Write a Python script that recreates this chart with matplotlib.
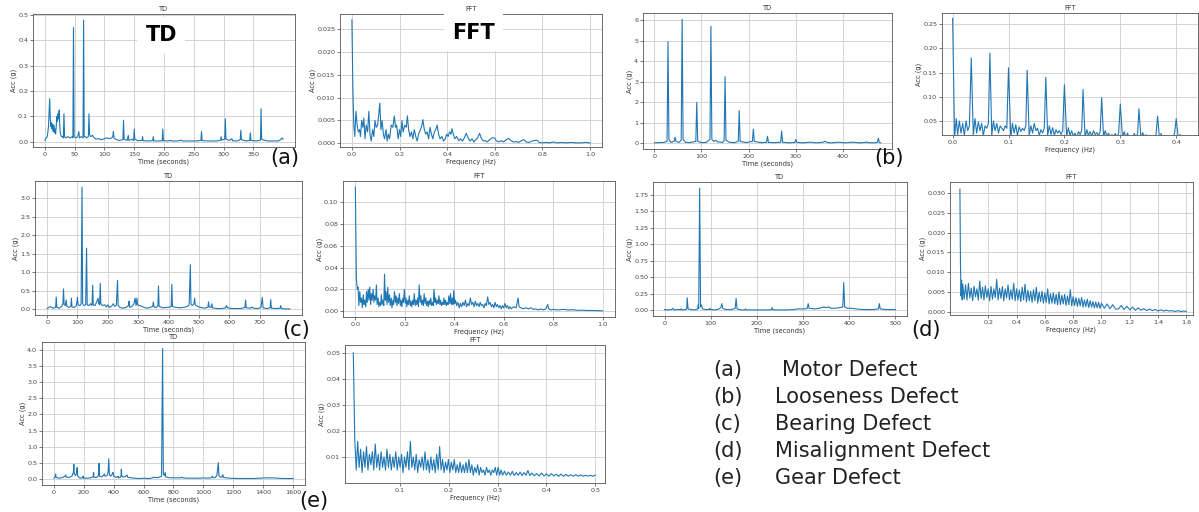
#Imports

import numpy as np
import matplotlib
matplotlib.use("Agg")
import matplotlib.pyplot as plt

#Data (time in seconds / frequency in Hz, acceleration in g)

motor_td = [(0,0.005),(2,0.015),(4,0.02),(6,0.06),(8,0.17),(9,0.09),(10,0.06),(11,0.075),(12,0.05),(13,0.07),
            (14,0.04),(15,0.065),(16,0.035),(17,0.05),(18,0.03),(19,0.06),(20,0.1),(21,0.08),(22,0.11),(23,0.09),
            (24,0.125),(25,0.06),(26,0.03),(28,0.02),(30,0.02),(31,0.015),(32,0.11),(33,0.02),(35,0.015),(38,0.02),
            (42,0.015),(46,0.02),(47,0.015),(48,0.45),(49,0.02),(52,0.015),(55,0.02),(57,0.04),(58,0.015),(61,0.02),
            (64,0.015),(65,0.48),(66,0.02),(68,0.02),(70,0.015),(73,0.02),(74,0.11),(75,0.03),(77,0.02),(80,0.025),
            (83,0.015),(86,0.01),(90,0.012),(95,0.008),(100,0.012),(104,0.015),(108,0.012),(112,0.015),(114,0.02),
            (115,0.04),(116,0.015),(120,0.008),(125,0.005),(131,0.008),(132,0.085),(133,0.01),(138,0.005),(140,0.025),
            (141,0.005),(146,0.01),(149,0.005),(150,0.05),(151,0.01),(156,0.004),(163,0.005),(164,0.02),(165,0.004),
            (172,0.003),(181,0.004),(182,0.02),(183,0.003),(190,0.003),(197,0.004),(198,0.05),(199,0.004),(205,0.003),
            (212,0.005),(213,0.003),(222,0.003),(230,0.006),(231,0.003),(245,0.003),(255,0.003),(262,0.005),(263,0.04),
            (264,0.004),(275,0.003),(288,0.003),(295,0.006),(296,0.02),(297,0.006),(302,0.01),(303,0.09),(304,0.01),
            (310,0.005),(314,0.012),(315,0.004),(322,0.003),(328,0.008),(329,0.045),(330,0.008),(338,0.003),(344,0.005),
            (345,0.035),(346,0.005),(355,0.003),(362,0.006),(363,0.13),(364,0.01),(368,0.006),(375,0.003),(385,0.003),
            (392,0.003),(396,0.008),(398,0.015),(400,0.01)]

motor_fft = [(0.0,0.027),(0.004,0.012),(0.008,0.004),(0.012,0.0015),(0.017,0.007),(0.022,0.004),(0.027,0.0025),
             (0.032,0.003),(0.036,0.0015),(0.041,0.005),(0.046,0.0035),(0.05,0.0055),(0.055,0.001),(0.06,0.004),
             (0.066,0.0025),(0.071,0.007),(0.076,0.002),(0.081,0.0005),(0.087,0.003),(0.092,0.0015),(0.097,0.005),
             (0.102,0.0035),(0.108,0.004),(0.112,0.006),(0.117,0.0088),(0.122,0.003),(0.127,0.005),(0.132,0.002),
             (0.137,0.001),(0.143,0.003),(0.148,0.0005),(0.153,0.002),(0.158,0.001),(0.165,0.004),(0.172,0.0035),
             (0.178,0.006),(0.183,0.0035),(0.188,0.004),(0.194,0.001),(0.2,0.003),(0.205,0.0015),(0.21,0.005),
             (0.215,0.0025),(0.222,0.004),(0.228,0.0035),(0.233,0.006),(0.238,0.003),(0.244,0.0015),(0.25,0.0025),
             (0.256,0.001),(0.262,0.003),(0.268,0.0015),(0.274,0.0005),(0.28,0.002),(0.288,0.003),(0.294,0.004),
             (0.298,0.0052),(0.304,0.003),(0.31,0.002),(0.316,0.0025),(0.322,0.001),(0.328,0.0035),(0.334,0.002),
             (0.34,0.001),(0.346,0.0025),(0.352,0.003),(0.358,0.004),(0.364,0.002),(0.37,0.001),(0.378,0.0015),
             (0.385,0.0005),(0.392,0.001),(0.398,0.002),(0.404,0.0015),(0.41,0.0025),(0.416,0.002),(0.42,0.0032),
             (0.426,0.002),(0.432,0.001),(0.44,0.0015),(0.448,0.0006),(0.456,0.001),(0.464,0.0005),(0.472,0.0012),
             (0.48,0.0022),(0.488,0.0012),(0.496,0.0005),(0.504,0.001),(0.512,0.0003),(0.52,0.0008),(0.528,0.0012),
             (0.536,0.0022),(0.544,0.001),(0.552,0.0005),(0.56,0.0006),(0.568,0.0003),(0.578,0.0008),(0.588,0.0012),
             (0.598,0.0012),(0.606,0.0006),(0.616,0.0003),(0.626,0.0006),(0.636,0.0003),(0.648,0.0008),(0.658,0.0011),
             (0.668,0.0006),(0.678,0.0003),(0.69,0.0004),(0.7,0.0002),(0.712,0.0006),(0.722,0.0008),(0.732,0.0003),
             (0.744,0.0002),(0.756,0.0005),(0.766,0.0006),(0.776,0.0007),(0.786,0.0002),(0.8,0.0001),(0.815,0.0002),
             (0.83,0.0001),(0.846,0.0003),(0.86,0.0001),(0.88,0.0002),(0.9,0.0001),(0.92,0.0002),(0.94,0.0001),
             (0.96,0.0001),(0.98,0.0002),(1.0,0.0001)]

looseness_td = [(0,0.03),(10,0.04),(20,0.05),(27,0.1),(29,4.95),(31,0.2),(35,0.05),(42,0.1),(44,0.3),(46,0.1),
                (52,0.05),(57,0.15),(59,6.05),(61,0.2),(66,0.05),(75,0.04),(88,0.1),(90,2.0),(92,0.1),(100,0.04),
                (110,0.05),(118,0.2),(120,5.7),(122,0.2),(126,0.1),(130,0.15),(134,0.08),(145,0.05),(148,0.15),
                (150,3.25),(152,0.15),(160,0.05),(170,0.04),(178,0.1),(180,1.6),(182,0.1),(195,0.04),(208,0.1),
                (210,0.7),(212,0.1),(225,0.04),(238,0.05),(240,0.35),(242,0.05),(255,0.04),(268,0.06),(270,0.6),
                (272,0.06),(285,0.03),(298,0.05),(300,0.2),(302,0.05),(315,0.03),(330,0.06),(345,0.03),(358,0.06),
                (362,0.11),(366,0.05),(375,0.03),(390,0.06),(405,0.03),(420,0.06),(435,0.03),(448,0.05),(450,0.08),
                (452,0.04),(465,0.03),(473,0.05),(475,0.25),(477,0.05),(480,0.03)]

looseness_fft = [(0.0,0.262),(0.0035,0.015),(0.0065,0.055),(0.009,0.022),(0.012,0.05),(0.015,0.025),(0.018,0.045),
                 (0.021,0.02),(0.024,0.05),(0.027,0.03),(0.03,0.04),
                 (0.0333,0.18),(0.037,0.02),(0.04,0.055),(0.043,0.025),(0.046,0.048),(0.049,0.03),(0.052,0.045),
                 (0.055,0.02),(0.058,0.04),(0.061,0.035),(0.064,0.045),
                 (0.0667,0.19),(0.07,0.02),(0.073,0.05),(0.076,0.03),(0.079,0.045),(0.082,0.025),(0.085,0.04),
                 (0.088,0.035),(0.091,0.03),(0.094,0.04),(0.097,0.035),
                 (0.1,0.16),(0.104,0.015),(0.107,0.045),(0.11,0.025),(0.113,0.042),(0.116,0.02),(0.119,0.038),
                 (0.122,0.028),(0.125,0.035),(0.128,0.03),(0.131,0.04),
                 (0.1333,0.155),(0.137,0.02),(0.14,0.04),(0.143,0.025),(0.146,0.045),(0.149,0.03),(0.152,0.035),
                 (0.155,0.02),(0.158,0.032),(0.161,0.025),(0.164,0.035),
                 (0.1667,0.14),(0.17,0.02),(0.173,0.04),(0.176,0.022),(0.179,0.036),(0.182,0.02),(0.185,0.032),
                 (0.188,0.025),(0.191,0.03),(0.194,0.022),(0.197,0.03),
                 (0.2,0.125),(0.204,0.018),(0.207,0.036),(0.21,0.02),(0.213,0.03),(0.216,0.018),(0.219,0.025),
                 (0.222,0.015),(0.225,0.028),(0.228,0.022),(0.231,0.03),
                 (0.2333,0.115),(0.237,0.015),(0.24,0.032),(0.243,0.02),(0.246,0.028),(0.249,0.018),(0.252,0.03),
                 (0.255,0.022),(0.258,0.026),(0.261,0.02),(0.264,0.028),
                 (0.2667,0.098),(0.27,0.016),(0.273,0.03),(0.276,0.018),(0.279,0.025),(0.282,0.015),(0.285,0.022),
                 (0.288,0.018),(0.291,0.024),(0.294,0.016),(0.297,0.025),
                 (0.3,0.085),(0.304,0.014),(0.307,0.028),(0.31,0.016),(0.313,0.025),(0.316,0.012),(0.319,0.02),
                 (0.322,0.016),(0.325,0.024),(0.328,0.018),(0.331,0.024),
                 (0.3333,0.075),(0.337,0.013),(0.34,0.026),(0.343,0.016),(0.346,0.022),(0.349,0.012),(0.352,0.02),
                 (0.355,0.014),(0.358,0.018),(0.361,0.015),(0.364,0.022),
                 (0.3667,0.06),(0.37,0.014),(0.373,0.024),(0.376,0.012),(0.379,0.02),(0.382,0.01),(0.385,0.018),
                 (0.388,0.014),(0.391,0.02),(0.394,0.016),(0.397,0.024),
                 (0.4,0.055),(0.404,0.012),(0.407,0.022),(0.41,0.014),(0.413,0.018),(0.416,0.012)]

bearing_td = [(0,0.02),(5,0.05),(10,0.07),(15,0.05),(20,0.03),(28,0.05),(30,0.33),(32,0.05),(40,0.03),(48,0.08),
              (52,0.15),(54,0.55),(56,0.12),(60,0.1),(63,0.25),(65,0.08),(72,0.05),(78,0.08),(80,0.3),(82,0.06),
              (90,0.05),(96,0.1),(98,0.2),(100,0.32),(102,0.12),(108,0.1),(112,0.15),(115,3.3),(117,0.15),(122,0.1),
              (127,0.12),(130,1.65),(132,0.12),(138,0.1),(143,0.15),(148,0.1),(150,0.65),(152,0.12),(158,0.1),
              (163,0.2),(168,0.3),(170,0.15),(173,0.12),(175,0.7),(177,0.15),(182,0.1),(190,0.12),(195,0.06),
              (200,0.12),(205,0.05),(212,0.08),(218,0.15),(222,0.08),(228,0.1),(232,0.78),(234,0.1),(240,0.05),
              (250,0.03),(260,0.05),(268,0.1),(270,0.22),(272,0.05),(280,0.08),(286,0.15),(290,0.3),(293,0.1),
              (296,0.3),(298,0.12),(305,0.1),(312,0.08),(320,0.05),(330,0.03),(340,0.05),(348,0.08),(350,0.2),
              (352,0.06),(360,0.05),(365,0.1),(367,0.63),(369,0.08),(380,0.04),(395,0.05),(405,0.06),(409,0.08),
              (411,0.67),(413,0.07),(425,0.05),(440,0.04),(455,0.06),(463,0.08),(468,0.12),(472,1.2),(474,0.15),
              (478,0.1),(484,0.15),(486,0.3),(488,0.12),(495,0.08),(505,0.05),(520,0.03),(530,0.06),(532,0.2),
              (534,0.06),(540,0.05),(543,0.15),(545,0.04),(560,0.02),(575,0.02),(588,0.04),(591,0.1),(594,0.04),
              (610,0.02),(630,0.02),(645,0.03),(652,0.05),(654,0.25),(656,0.04),(670,0.03),(676,0.06),(680,0.03),
              (695,0.02),(705,0.05),(709,0.32),(712,0.04),(725,0.02),(735,0.04),(737,0.26),(739,0.03),(755,0.02),
              (768,0.03),(770,0.1),(772,0.02),(785,0.01),(800,0.01)]

bearing_fft = [(0.0,0.114),(0.004,0.03),(0.008,0.02),(0.011,0.022),(0.014,0.005),(0.018,0.018),(0.021,0.008),
               (0.025,0.012),(0.028,0.003),(0.032,0.015),(0.035,0.006),(0.038,0.01),(0.042,0.004),(0.045,0.018),
               (0.048,0.008),(0.052,0.02),(0.055,0.01),(0.058,0.022),(0.062,0.006),(0.065,0.016),(0.068,0.01),
               (0.072,0.02),(0.075,0.008),(0.078,0.014),(0.082,0.01),(0.085,0.024),(0.088,0.006),(0.092,0.012),
               (0.095,0.004),(0.098,0.008),(0.102,0.005),(0.105,0.015),(0.108,0.006),(0.112,0.01),(0.115,0.005),
               (0.118,0.034),(0.121,0.01),(0.124,0.018),(0.128,0.006),(0.131,0.022),(0.134,0.008),(0.138,0.015),
               (0.141,0.005),(0.145,0.012),(0.148,0.003),(0.152,0.01),(0.155,0.006),(0.158,0.018),(0.162,0.008),
               (0.165,0.014),(0.168,0.005),(0.172,0.012),(0.175,0.007),(0.178,0.016),(0.182,0.005),(0.185,0.01),
               (0.188,0.004),(0.192,0.012),(0.195,0.008),(0.198,0.02),(0.202,0.007),(0.205,0.012),(0.208,0.004),
               (0.212,0.01),(0.215,0.006),(0.218,0.014),(0.222,0.005),(0.225,0.009),(0.228,0.004),(0.232,0.01),
               (0.235,0.006),(0.238,0.016),(0.242,0.005),(0.245,0.01),(0.248,0.006),(0.252,0.012),(0.255,0.004),
               (0.258,0.024),(0.262,0.008),(0.265,0.014),(0.268,0.006),(0.272,0.01),(0.275,0.005),(0.278,0.016),
               (0.282,0.007),(0.285,0.012),(0.288,0.005),(0.292,0.009),(0.295,0.004),(0.298,0.01),(0.302,0.006),
               (0.305,0.012),(0.308,0.005),(0.312,0.008),(0.315,0.005),(0.318,0.02),(0.322,0.008),(0.325,0.012),
               (0.328,0.006),(0.332,0.01),(0.335,0.007),(0.338,0.014),(0.342,0.006),(0.345,0.01),(0.348,0.005),
               (0.352,0.008),(0.355,0.006),(0.358,0.012),(0.362,0.006),(0.365,0.01),(0.368,0.005),(0.372,0.008),
               (0.375,0.006),(0.378,0.014),(0.382,0.007),(0.385,0.016),(0.388,0.006),(0.392,0.012),(0.395,0.006),
               (0.398,0.019),(0.402,0.007),(0.405,0.01),(0.41,0.005),(0.415,0.008),(0.42,0.003),(0.425,0.007),
               (0.43,0.004),(0.435,0.008),(0.44,0.005),(0.445,0.01),(0.45,0.004),(0.455,0.007),(0.46,0.005),
               (0.465,0.012),(0.47,0.006),(0.475,0.008),(0.48,0.004),(0.485,0.009),(0.49,0.005),(0.495,0.007),
               (0.5,0.004),(0.505,0.008),(0.51,0.005),(0.515,0.006),(0.52,0.003),(0.525,0.007),(0.53,0.005),
               (0.535,0.013),(0.54,0.006),(0.545,0.008),(0.55,0.004),(0.555,0.006),(0.56,0.003),(0.565,0.008),
               (0.57,0.004),(0.575,0.006),(0.58,0.003),(0.585,0.005),(0.59,0.002),(0.595,0.005),(0.6,0.003),
               (0.605,0.007),(0.61,0.003),(0.615,0.005),(0.62,0.002),(0.625,0.004),(0.63,0.002),(0.64,0.004),
               (0.65,0.003),(0.658,0.012),(0.662,0.004),(0.67,0.003),(0.68,0.002),(0.69,0.003),(0.7,0.002),
               (0.71,0.003),(0.72,0.0015),(0.73,0.002),(0.74,0.001),(0.75,0.002),(0.76,0.001),(0.77,0.002),
               (0.778,0.006),(0.782,0.002),(0.79,0.001),(0.8,0.0015),(0.82,0.001),(0.84,0.0015),(0.86,0.001),
               (0.88,0.0012),(0.9,0.0006),(0.92,0.0008),(0.94,0.0005),(0.96,0.0005),(0.98,0.0003),(1.0,0.0002)]

misalign_td = [(0,0.01),(8,0.005),(15,0.01),(18,0.03),(20,0.005),(30,0.01),(35,0.01),(36,0.02),(38,0.005),
               (45,0.01),(48,0.02),(49,0.19),(51,0.02),(58,0.01),(66,0.005),(72,0.02),(73,0.08),(74,0.03),
               (76,1.85),(78,0.05),(80,0.08),(82,0.02),(90,0.01),(97,0.01),(98,0.03),(100,0.01),(110,0.005),
               (118,0.02),(122,0.04),(124,0.1),(126,0.03),(132,0.01),(145,0.01),(153,0.03),(155,0.18),(157,0.02),
               (165,0.005),(174,0.005),(175,0.02),(177,0.005),(200,0.005),(225,0.005),(232,0.01),(233,0.04),
               (235,0.005),(260,0.005),(280,0.01),(287,0.02),(295,0.02),(305,0.02),(309,0.03),(311,0.1),(313,0.03),
               (325,0.02),(335,0.03),(345,0.05),(350,0.04),(356,0.05),(360,0.03),(370,0.03),(380,0.04),(386,0.05),
               (388,0.42),(390,0.05),(396,0.03),(404,0.03),(415,0.02),(430,0.01),(450,0.01),(463,0.02),(465,0.1),
               (467,0.02),(480,0.01),(500,0.01)]

misalign_fft = [(0.0,0.031),(0.004,0.012),(0.008,0.004),(0.012,0.008),(0.016,0.003),
                (0.02,0.007),(0.03,0.0032),(0.04,0.0068),(0.05,0.003),(0.06,0.0072),(0.07,0.0035),(0.08,0.006),
                (0.09,0.0028),(0.10,0.0065),(0.11,0.0038),(0.12,0.0058),(0.13,0.003),(0.14,0.0078),(0.15,0.0034),
                (0.16,0.0062),(0.17,0.003),(0.18,0.0066),(0.19,0.0036),(0.20,0.0058),(0.21,0.0028),(0.22,0.0064),
                (0.23,0.0032),(0.24,0.0058),(0.25,0.0036),(0.26,0.0082),(0.27,0.003),(0.28,0.006),(0.29,0.0034),
                (0.30,0.0064),(0.31,0.0028),(0.32,0.0058),(0.33,0.0035),(0.34,0.0068),(0.35,0.003),(0.36,0.0056),
                (0.37,0.0032),(0.38,0.0072),(0.39,0.0028),(0.40,0.0058),(0.41,0.003),(0.42,0.0055),(0.43,0.0026),
                (0.44,0.0062),(0.45,0.003),(0.46,0.007),(0.47,0.0025),(0.48,0.0055),(0.49,0.0028),(0.50,0.0052),
                (0.51,0.0024),(0.52,0.0056),(0.53,0.0028),(0.54,0.0062),(0.55,0.0022),(0.56,0.005),(0.57,0.0026),
                (0.58,0.0052),(0.59,0.0022),(0.60,0.0048),(0.61,0.0024),(0.62,0.0058),(0.63,0.002),(0.64,0.0046),
                (0.65,0.0022),(0.66,0.0048),(0.67,0.002),(0.68,0.0044),(0.69,0.0018),(0.70,0.005),(0.71,0.0018),
                (0.72,0.0042),(0.73,0.002),(0.74,0.0044),(0.75,0.0016),(0.76,0.004),(0.77,0.0018),(0.78,0.0056),
                (0.79,0.0015),(0.80,0.0038),(0.81,0.0016),(0.82,0.0036),(0.83,0.0014),(0.84,0.0034),(0.85,0.0015),
                (0.86,0.0036),(0.87,0.0012),(0.88,0.003),(0.89,0.0013),(0.90,0.0032),(0.91,0.0011),(0.92,0.0028),
                (0.93,0.0012),(0.94,0.0026),(0.95,0.001),(0.96,0.0025),(0.97,0.001),(0.98,0.0024),(0.99,0.0009),
                (1.00,0.0022),(1.02,0.0009),(1.04,0.002),(1.06,0.0008),(1.08,0.0018),(1.10,0.0007),
                (1.12,0.0007),(1.14,0.0016),(1.16,0.0006),(1.18,0.0014),(1.20,0.0005),(1.22,0.0012),(1.24,0.0004),
                (1.26,0.001),(1.28,0.0004),(1.30,0.0008),(1.32,0.0003),(1.34,0.0007),(1.36,0.0003),(1.38,0.0006),
                (1.40,0.0002),(1.42,0.0005),(1.44,0.0002),(1.46,0.0004),(1.48,0.0002),(1.50,0.0003),(1.52,0.0001),
                (1.54,0.0003),(1.56,0.0001),(1.58,0.0002),(1.60,0.0001)]

gear_td = [(0,0.02),(8,0.05),(11,0.15),(14,0.05),(25,0.03),(40,0.02),(60,0.05),(75,0.08),(78,0.12),(82,0.06),
           (100,0.04),(120,0.08),(130,0.2),(133,0.45),(136,0.15),(145,0.1),(152,0.2),(155,0.35),(158,0.1),
           (170,0.03),(185,0.02),(193,0.05),(195,0.08),(197,0.02),(220,0.02),(245,0.03),(262,0.06),(265,0.2),
           (268,0.05),(285,0.04),(298,0.1),(302,0.48),(305,0.08),(320,0.06),(330,0.1),(338,0.15),(342,0.08),
           (355,0.1),(362,0.2),(367,0.62),(371,0.12),(380,0.08),(390,0.15),(395,0.2),(400,0.08),(415,0.05),
           (427,0.06),(429,0.08),(432,0.03),(445,0.05),(449,0.1),(451,0.3),(454,0.08),(465,0.05),(480,0.08),
           (489,0.12),(493,0.05),(505,0.04),(520,0.03),(540,0.02),(560,0.01),(580,0.01),(600,0.02),(620,0.01),
           (640,0.01),(660,0.03),(667,0.05),(675,0.04),(700,0.04),(720,0.08),(727,4.05),(732,0.15),(738,0.1),
           (744,0.2),(748,0.06),(765,0.04),(790,0.03),(820,0.03),(845,0.03),(856,0.05),(862,0.03),(890,0.02),
           (920,0.02),(950,0.02),(980,0.02),(1000,0.03),(1020,0.02),(1050,0.03),(1060,0.08),(1065,0.03),
           (1080,0.04),(1090,0.1),(1100,0.5),(1104,0.1),(1115,0.05),(1125,0.05),(1130,0.13),(1134,0.05),
           (1150,0.03),(1180,0.02),(1220,0.01),(1260,0.01),(1300,0.01),(1340,0.01),(1380,0.02),(1420,0.03),
           (1460,0.03),(1500,0.02),(1540,0.01),(1580,0.01),(1600,0.01)]

gear_fft = [(0.004,0.050),(0.007,0.017),(0.010,0.005),(0.013,0.016),(0.016,0.006),(0.019,0.013),(0.022,0.004),
            (0.025,0.012),(0.028,0.006),(0.031,0.014),(0.034,0.005),(0.037,0.011),(0.040,0.007),(0.043,0.012),
            (0.046,0.005),(0.049,0.015),(0.052,0.006),(0.055,0.011),(0.058,0.005),(0.061,0.012),(0.064,0.006),
            (0.067,0.010),(0.070,0.005),(0.073,0.013),(0.076,0.006),(0.079,0.011),(0.082,0.005),(0.085,0.010),
            (0.088,0.006),(0.091,0.012),(0.094,0.005),(0.097,0.010),(0.100,0.006),(0.103,0.011),(0.106,0.004),
            (0.109,0.010),(0.112,0.006),(0.115,0.012),(0.118,0.005),(0.121,0.016),(0.124,0.006),(0.127,0.010),
            (0.130,0.005),(0.133,0.011),(0.136,0.004),(0.139,0.009),(0.142,0.006),(0.145,0.010),(0.148,0.005),
            (0.151,0.012),(0.154,0.005),(0.157,0.009),(0.160,0.004),(0.163,0.010),(0.166,0.005),(0.169,0.009),
            (0.172,0.004),(0.175,0.011),(0.178,0.005),(0.181,0.014),(0.184,0.005),(0.187,0.009),(0.190,0.004),
            (0.193,0.008),(0.196,0.005),(0.199,0.009),(0.202,0.004),(0.205,0.008),(0.208,0.005),(0.211,0.009),
            (0.214,0.004),(0.217,0.007),(0.220,0.004),(0.223,0.008),(0.226,0.004),(0.229,0.007),(0.232,0.004),
            (0.235,0.008),(0.238,0.004),(0.241,0.009),(0.244,0.004),(0.247,0.007),(0.250,0.003),(0.253,0.006),
            (0.256,0.004),(0.259,0.007),(0.262,0.003),(0.265,0.006),(0.268,0.004),(0.271,0.005),(0.274,0.003),
            (0.277,0.006),(0.280,0.004),(0.283,0.005),(0.286,0.003),(0.289,0.005),(0.292,0.004),(0.295,0.006),
            (0.298,0.003),(0.301,0.006),(0.304,0.003),(0.307,0.005),(0.310,0.003),(0.314,0.0045),(0.318,0.003),
            (0.322,0.0042),(0.326,0.003),(0.330,0.0045),(0.334,0.0028),(0.338,0.004),(0.342,0.003),(0.346,0.0042),
            (0.350,0.0028),(0.354,0.004),(0.358,0.003),(0.362,0.0048),(0.366,0.0028),(0.370,0.0038),(0.375,0.0028),
            (0.380,0.0036),(0.385,0.0027),(0.390,0.0038),(0.395,0.0027),(0.400,0.0035),(0.405,0.0026),(0.410,0.0036),
            (0.415,0.0027),(0.420,0.0034),(0.425,0.0026),(0.430,0.0034),(0.435,0.0026),(0.440,0.0033),(0.445,0.0026),
            (0.450,0.0032),(0.455,0.0026),(0.460,0.0032),(0.465,0.0026),(0.470,0.0031),(0.475,0.0026),(0.480,0.003),
            (0.485,0.0026),(0.490,0.003),(0.495,0.0026),(0.500,0.003)]

panel_tags = ["(a)", "(b)", "(c)", "(d)", "(e)"]
defect_names = ["Motor Defect", "Looseness Defect", "Bearing Defect", "Misalignment Defect", "Gear Defect"]

W, H = 1199, 512
fig = plt.figure(figsize=(W / 100, H / 100), dpi=100)
fig.patch.set_facecolor("white")

# function to draw one small screenshot-like panel, box given in pixels (left, top, right, bottom)
def panel(box, pts, title, xlabel, xlim=None, ylim=None, xticks=None, yticks=None):
 l, t, r, b = box
 ax = fig.add_axes([l / W, 1 - b / H, (r - l) / W, (b - t) / H])
 x, y = np.array(pts).T
 ax.plot(x, y, color="#1f77b4", lw=0.8)
 if xlim: ax.set_xlim(xlim)
 if ylim: ax.set_ylim(ylim)
 if xticks is not None: ax.set_xticks(xticks)
 if yticks is not None: ax.set_yticks(yticks)
 ax.grid(True, color="#d4d4d4", lw=0.7)
 ax.set_axisbelow(True)
 ax.set_title(title, fontsize=4.8, pad=2, color="#333333")
 ax.set_xlabel(xlabel, fontsize=4.8, labelpad=1, color="#333333")
 ax.set_ylabel("Acc (g)", fontsize=4.8, labelpad=1, color="#333333")
 ax.tick_params(labelsize=4.6, length=2, width=0.5, pad=1.5, colors="#444444")
 for s in ax.spines.values():
  s.set_linewidth(0.6)
  s.set_color("#555555")
 return ax

# row 1
ax = panel((33, 14, 295, 147), motor_td, "TD", "Time (seconds)", xticks=[0, 50, 100, 150, 200, 250, 300, 350])
ax.text(0.49, 0.84, "TD", transform=ax.transAxes, fontsize=15, fontweight="bold", family="DejaVu Sans",
        ha="center", va="center", bbox=dict(facecolor="white", edgecolor="none", pad=6))
ax = panel((340, 14, 602, 147), motor_fft, "FFT", "Frequency (Hz)", xlim=(-0.05, 1.05), ylim=(-0.0008, 0.0283),
           xticks=[0, 0.2, 0.4, 0.6, 0.8, 1.0], yticks=[0, 0.005, 0.01, 0.015, 0.02, 0.025])
ax.text(0.51, 0.86, "FFT", transform=ax.transAxes, fontsize=15, fontweight="bold", family="DejaVu Sans",
        ha="center", va="center", bbox=dict(facecolor="white", edgecolor="none", pad=6))
panel((643, 13, 892, 149), looseness_td, "TD", "Time (seconds)", xticks=[0, 100, 200, 300, 400])
panel((942, 13, 1198, 135), looseness_fft, "FFT", "Frequency (Hz)", xlim=(-0.019, 0.439), ylim=(0.021, 0.273),
      xticks=[0, 0.1, 0.2, 0.3, 0.4], yticks=[0.05, 0.1, 0.15, 0.2, 0.25])

# row 2
panel((35, 181, 302, 315), bearing_td, "TD", "Time (seconds)", xticks=[0, 100, 200, 300, 400, 500, 600, 700])
panel((343, 181, 615, 317), bearing_fft, "FFT", "Frequency (Hz)")
panel((653, 182, 907, 316), misalign_td, "TD", "Time (seconds)", xticks=[0, 100, 200, 300, 400, 500],
      yticks=[0, 0.25, 0.5, 0.75, 1.0, 1.25, 1.5, 1.75])
panel((950, 182, 1193, 315), misalign_fft, "FFT", "Frequency (Hz)", xlim=(-0.07, 1.647), ylim=(-0.0008, 0.0328),
      xticks=[0.2, 0.4, 0.6, 0.8, 1.0, 1.2, 1.4, 1.6], yticks=[0, 0.005, 0.01, 0.015, 0.02, 0.025, 0.03])

# row 3
panel((42, 342, 305, 485), gear_td, "TD", "Time (seconds)", xticks=[0, 200, 400, 600, 800, 1000, 1200, 1400, 1600])
panel((345, 345, 605, 483), gear_fft, "FFT", "Frequency (Hz)", xlim=(-0.013, 0.52), ylim=(0.0, 0.053),
      xticks=[0.1, 0.2, 0.3, 0.4, 0.5], yticks=[0.01, 0.02, 0.03, 0.04, 0.05])

# panel tags next to each pair
tag_pos = [(285, 158), (889, 158), (296, 330), (926, 330), (314, 501)]
for tag, (px, py) in zip(panel_tags, tag_pos):
 fig.text(px / W, 1 - py / H, tag, fontsize=15, family="DejaVu Sans", ha="center", va="center", color="#111111")

# key of defects
for i, (tag, name) in enumerate(zip(panel_tags, defect_names)):
 yy = 1 - (370 + i * 27) / H
 fig.text(713 / W, yy, tag, fontsize=15, family="DejaVu Sans", va="center", color="#222222")
 fig.text((782 if i == 0 else 775) / W, yy, name, fontsize=15, family="DejaVu Sans", va="center", color="#222222")

plt.savefig("out.png", dpi=100)
